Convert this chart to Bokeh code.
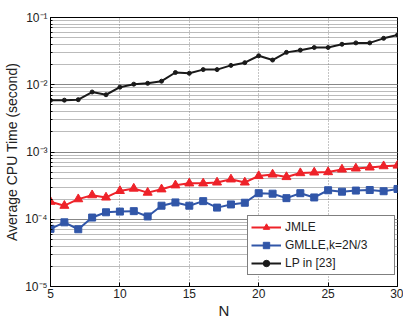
from bokeh.plotting import figure
from bokeh.models import Range1d, FixedTicker, LogTicker, CustomJSTickFormatter, Legend, LegendItem
from bokeh.embed import file_html
from bokeh.resources import INLINE

N = list(range(5, 31))
jmle = [1.82e-4, 1.59e-4, 1.99e-4, 2.28e-4, 2.11e-4, 2.64e-4, 2.86e-4, 2.49e-4, 2.79e-4, 3.2e-4,
        3.42e-4, 3.42e-4, 3.53e-4, 3.92e-4, 3.53e-4, 4.4e-4, 4.64e-4, 4.25e-4, 4.86e-4, 4.97e-4,
        5.03e-4, 5.5e-4, 5.7e-4, 5.9e-4, 6.16e-4, 6.3e-4]
gmlle = [7.2e-5, 9.0e-5, 7.1e-5, 1.06e-4, 1.27e-4, 1.30e-4, 1.32e-4, 1.10e-4, 1.59e-4, 1.78e-4,
         1.59e-4, 1.86e-4, 1.49e-4, 1.66e-4, 1.76e-4, 2.44e-4, 2.40e-4, 2.06e-4, 2.44e-4, 2.11e-4,
         2.70e-4, 2.57e-4, 2.67e-4, 2.72e-4, 2.61e-4, 2.82e-4]
lp = [0.00587, 0.0059, 0.0060, 0.0078, 0.0071, 0.0092, 0.0102, 0.0105, 0.0113, 0.0152,
      0.0148, 0.0168, 0.0168, 0.0194, 0.0213, 0.0270, 0.0233, 0.0303, 0.0327, 0.0358,
      0.0358, 0.0400, 0.0419, 0.0419, 0.0490, 0.0550]
x_ticks = [5, 10, 15, 20, 25, 30]
labels = ["JMLE", "GMLLE,k=2N/3", "LP in [23]"]

FONT = "Liberation Sans"

p = figure(width=403, height=321, y_axis_type="log", output_backend="svg",
           toolbar_location=None, x_range=Range1d(5, 30), y_range=Range1d(1e-5, 1e-1),
           min_border_left=50, min_border_right=6, min_border_top=17, min_border_bottom=32)
p.background_fill_color = "white"
p.outline_line_color = "black"
p.outline_line_width = 1

# axes
p.xaxis.ticker = FixedTicker(ticks=x_ticks)
p.yaxis.ticker = LogTicker(desired_num_ticks=5, num_minor_ticks=10)
p.yaxis.formatter = CustomJSTickFormatter(code="""
const e = Math.round(Math.log10(tick));
const sup = {"-":"\\u207B","0":"\\u2070","1":"\\u00B9","2":"\\u00B2","3":"\\u00B3","4":"\\u2074","5":"\\u2075","6":"\\u2076","7":"\\u2077","8":"\\u2078","9":"\\u2079"};
return "10" + String(e).split("").map(c => sup[c]).join("");
""")
for ax in (p.xaxis[0], p.yaxis[0]):
    ax.axis_line_color = "black"
    ax.major_tick_in = 4
    ax.major_tick_out = 0
    ax.major_tick_line_color = "black"
    ax.minor_tick_in = 2
    ax.minor_tick_out = 0
    ax.minor_tick_line_color = "black"
    ax.major_label_text_font = FONT
    ax.major_label_text_font_size = "12px"
    ax.major_label_text_color = "#222222"
    ax.axis_label_text_font = FONT
    ax.axis_label_text_font_style = "normal"
    ax.axis_label_text_color = "#222222"
p.xaxis.minor_tick_line_color = None
p.xaxis.major_label_standoff = 2
p.xaxis.axis_label = "N"
p.xaxis.axis_label_text_font_size = "15px"
p.xaxis.axis_label_standoff = 1
p.yaxis.major_label_standoff = 3
p.yaxis.axis_label = "Average CPU Time (second)"
p.yaxis.axis_label_text_font_size = "14px"
p.yaxis.axis_label_standoff = 2

# grids
p.xgrid.grid_line_color = "#8a8a8a"
p.xgrid.grid_line_dash = "1 2"
p.ygrid.grid_line_color = "#777777"
p.ygrid.grid_line_dash = "1 1"
p.ygrid.minor_grid_line_color = "#777777"
p.ygrid.minor_grid_line_dash = "1 1"

RED = "#ee2229"
BLUE = "#3156a8"
BLACK = "#1a1a1a"

r1l = p.line(N, jmle, line_color=RED, line_width=2)
r1m = p.scatter(N, jmle, marker="triangle", size=9, fill_color=RED, line_color=RED)
r2l = p.line(N, gmlle, line_color=BLUE, line_width=2)
r2m = p.scatter(N, gmlle, marker="square", size=7, fill_color=BLUE, line_color=BLUE)
r3l = p.line(N, lp, line_color=BLACK, line_width=2)
r3m = p.scatter(N, lp, marker="circle", size=4, fill_color=BLACK, line_color=BLACK)

legend = Legend(items=[LegendItem(label=labels[0], renderers=[r1l, r1m]),
                       LegendItem(label=labels[1], renderers=[r2l, r2m]),
                       LegendItem(label=labels[2], renderers=[r3l, r3m])],
                location=(197, 11), margin=0, padding=3, spacing=2,
                glyph_width=30, glyph_height=16, label_height=16, label_width=106,
                label_standoff=4, label_text_font=FONT, label_text_font_size="12px",
                label_text_color="#222222", border_line_color="black", border_line_width=1,
                background_fill_color="white", background_fill_alpha=1.0)
p.add_layout(legend, "center")

open("out.html", "w", encoding="utf-8").write(file_html(p, INLINE))
